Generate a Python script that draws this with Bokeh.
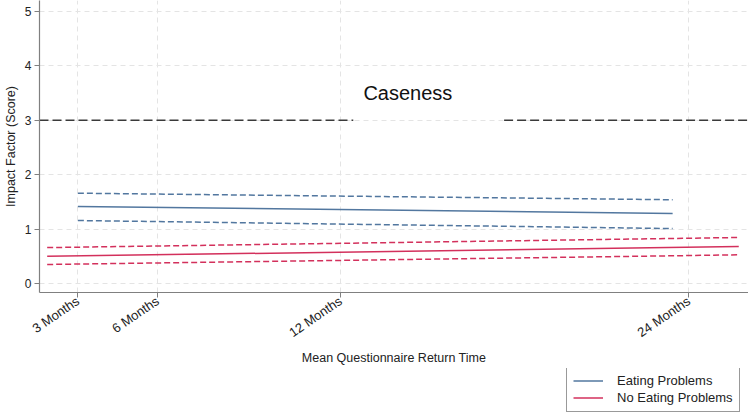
from bokeh.plotting import figure
from bokeh.layouts import column
from bokeh.models import Range1d, FixedTicker, Legend, LegendItem, Label
from bokeh.embed import file_html
from bokeh.resources import INLINE

# ---- data ----
tick_months = [3.3, 6.0, 12.2, 24.0]
tick_labels = ["3 Months", "6 Months", "12 Months", "24 Months"]

ep_x = [3.3, 23.45]
ep_fit = [1.415, 1.287]
ep_hi = [1.66, 1.54]
ep_lo = [1.158, 1.01]

nep_x = [2.26, 25.69]
nep_fit = [0.50, 0.68]
nep_hi = [0.66, 0.846]
nep_lo = [0.35, 0.527]

caseness = 3.0
case_x_start = [2.0, 17.74]
case_x_end = [12.63, 26.02]
caseness_label_x = 14.48
caseness_label_y = 3.51

series_names = ["Eating Problems", "No Eating Problems"]

FONT = "Liberation Sans"
BLUE = "#52779f"
RED = "#d3305c"

p = figure(width=748, height=368, output_backend="svg", toolbar_location=None,
           x_range=Range1d(2.0, 26.02), y_range=Range1d(-0.165, 5.202),
           min_border_left=38, min_border_right=0, min_border_top=0,
           min_border_bottom=76)
p.outline_line_color = None
p.background_fill_color = "white"

# grid
for g in (p.xgrid, p.ygrid):
    g.grid_line_color = "#e4e4e4"
    g.grid_line_dash = "5 4"
    g.grid_line_width = 1

# axes
p.xaxis.ticker = FixedTicker(ticks=tick_months)
p.xaxis.major_label_overrides = {t: l for t, l in zip(tick_months, tick_labels)}
p.xaxis.major_label_orientation = 0.6
p.xaxis.axis_label = "Mean Questionnaire Return Time"
p.yaxis.ticker = FixedTicker(ticks=[0, 1, 2, 3, 4, 5])
p.yaxis.axis_label = "Impact Factor (Score)"
p.yaxis.major_label_orientation = "horizontal"
for ax in (p.xaxis[0], p.yaxis[0]):
    ax.axis_line_color = "#808080"
    ax.axis_line_width = 1.2
    ax.major_tick_line_color = "#808080"
    ax.major_tick_out = 5
    ax.major_tick_in = 0
    ax.minor_tick_out = 0
    ax.minor_tick_in = 0
    ax.major_label_text_font = FONT
    ax.major_label_text_color = "#222222"
    ax.axis_label_text_font = FONT
    ax.axis_label_text_font_size = "12.5px"
    ax.axis_label_text_font_style = "normal"
    ax.axis_label_text_color = "#222222"
p.xaxis.major_label_text_font_size = "13px"
p.yaxis.major_label_text_font_size = "12px"
p.yaxis.major_label_standoff = 3
p.yaxis.axis_label_standoff = 4
p.xaxis.major_label_standoff = 2
p.xaxis.axis_label_standoff = 2

# caseness reference line
for xs, xe in zip(case_x_start, case_x_end):
    p.line([xs, xe], [caseness, caseness], line_color="#3a3a3a",
           line_width=1.5, line_dash="9 4")
p.add_layout(Label(x=caseness_label_x, y=caseness_label_y, text="Caseness",
                   text_font=FONT, text_font_size="20px", text_align="center",
                   text_baseline="alphabetic", text_color="#111111"))

# eating problems
p.line(ep_x, ep_fit, line_color=BLUE, line_width=1.5)
p.line(ep_x, ep_hi, line_color=BLUE, line_width=1.5, line_dash="6 3")
p.line(ep_x, ep_lo, line_color=BLUE, line_width=1.5, line_dash="6 3")

# no eating problems
p.line(nep_x, nep_fit, line_color=RED, line_width=1.5)
p.line(nep_x, nep_hi, line_color=RED, line_width=1.5, line_dash="6 3")
p.line(nep_x, nep_lo, line_color=RED, line_width=1.5, line_dash="6 3")

# legend strip below the chart (key lines fall outside its 0..1 ranges)
lg = figure(width=748, height=45, output_backend="svg", toolbar_location=None,
            x_range=Range1d(0, 1), y_range=Range1d(0, 1),
            x_axis_location=None, y_axis_location=None,
            min_border_left=0, min_border_right=0, min_border_top=0,
            min_border_bottom=0)
lg.grid.visible = False
lg.outline_line_color = None
k_ep = lg.line(ep_x, ep_fit, line_color=BLUE, line_width=1.5)
k_nep = lg.line(nep_x, nep_fit, line_color=RED, line_width=1.5)
legend = Legend(items=[LegendItem(label=series_names[0], renderers=[k_ep]),
                       LegendItem(label=series_names[1], renderers=[k_nep])],
                location=(527, 1), orientation="vertical")
legend.label_text_font = FONT
legend.label_text_font_size = "13px"
legend.label_text_color = "#222222"
legend.glyph_width = 30
legend.glyph_height = 15
legend.label_height = 15
legend.label_standoff = 14
legend.spacing = 2
legend.padding = 6
legend.margin = 0
legend.border_line_color = "#333333"
legend.border_line_width = 1
legend.background_fill_alpha = 1
lg.add_layout(legend, "center")

layout = column(p, lg, spacing=0)
open("out.html", "w").write(file_html(layout, INLINE))
